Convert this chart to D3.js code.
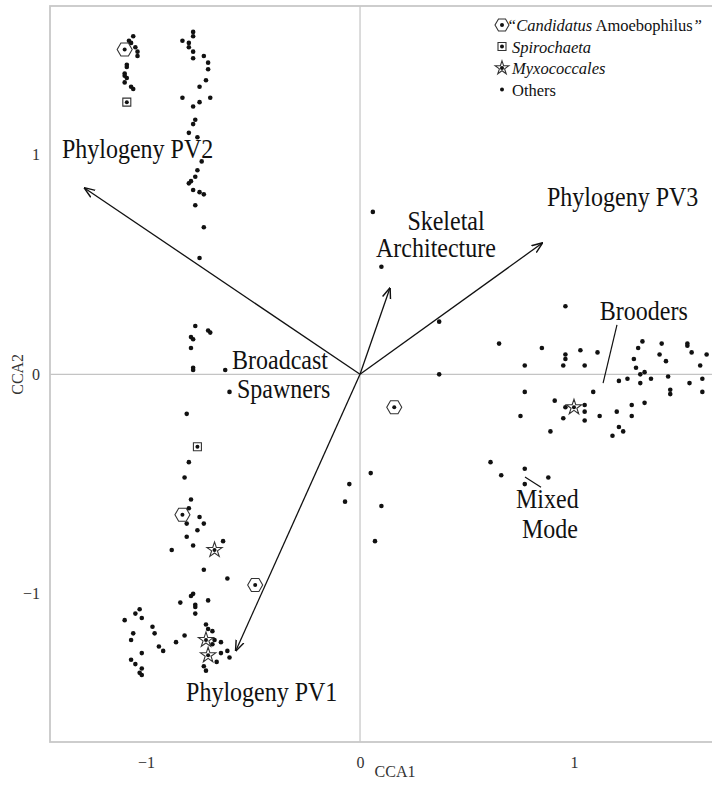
<!DOCTYPE html>
<html>
<head>
    <meta charset="utf-8">
    <title>CCA biplot</title>
    <script src="https://cdn.jsdelivr.net/npm/d3@7/dist/d3.min.js"></script>
    <style>
        body { margin: 0; background: #fff; }
        svg { font-family: 'Liberation Serif', 'Times New Roman', serif; display: block; }
        .tick text { font-size: 16px; fill: #333; }
        .label { font-size: 24px; fill: #111; }
        .legend text { font-size: 16.5px; fill: #111; font-family: 'Liberation Serif', 'Times New Roman', serif; }
    </style>
</head>
<body>
<svg id="chart" width="712" height="788"></svg>
<script>
    // sample scores (CCA1, CCA2)
    var others = [
        [-1.06, 1.54], [-1.08, 1.52], [-1.07, 1.51], [-1.05, 1.49], [-1.04, 1.47], [-1.04, 1.45],
        [-1.09, 1.41], [-1.09, 1.40], [-1.10, 1.37], [-1.10, 1.36], [-1.09, 1.35], [-1.10, 1.33],
        [-1.07, 1.31], [-1.06, 1.30],
        [-0.78, 1.56], [-0.78, 1.54], [-0.83, 1.52], [-0.80, 1.51], [-0.80, 1.49], [-0.78, 1.47],
        [-0.73, 1.45], [-0.78, 1.44], [-0.71, 1.42], [-0.71, 1.39], [-0.72, 1.34], [-0.75, 1.31],
        [-0.83, 1.26], [-0.70, 1.26], [-0.75, 1.24], [-0.78, 1.22], [-0.77, 1.16], [-0.78, 1.14],
        [-0.80, 1.10], [-0.76, 1.08], [-0.74, 0.97], [-0.76, 0.93], [-0.77, 0.90], [-0.79, 0.88],
        [-0.80, 0.87], [-0.78, 0.84], [-0.75, 0.83], [-0.73, 0.82], [-0.77, 0.77], [-0.73, 0.67],
        [-0.75, 0.53],
        [-0.77, 0.22], [-0.71, 0.20], [-0.70, 0.19], [-0.79, 0.17], [-0.78, 0.16], [-0.79, 0.12],
        [-0.78, 0.03], [-0.78, 0.02], [-0.63, 0.02], [-0.61, -0.08], [-0.81, -0.18], [-0.80, -0.40],
        [-0.82, -0.47], [-0.79, -0.57], [-0.80, -0.61], [-0.75, -0.65],
        [-0.81, -0.68], [-0.73, -0.68], [-0.76, -0.71], [-0.81, -0.74], [-0.64, -0.76], [-0.78, -0.78],
        [-0.88, -0.80], [-0.73, -0.89], [-0.62, -0.93], [-0.78, -1.00], [-0.79, -1.01], [-0.84, -1.04],
        [-0.71, -1.03], [-0.77, -1.05], [-0.77, -1.06], [-0.77, -1.09], [-1.03, -1.07], [-1.05, -1.09],
        [-1.02, -1.11], [-1.10, -1.12], [-0.97, -1.15], [-0.96, -1.18], [-1.06, -1.18], [-1.07, -1.21],
        [-0.82, -1.19], [-0.86, -1.22], [-0.72, -1.14], [-0.71, -1.16], [-0.69, -1.17], [-0.68, -1.21],
        [-0.65, -1.22], [-0.69, -1.23], [-0.94, -1.24], [-0.92, -1.26], [-1.02, -1.27], [-0.62, -1.26],
        [-0.65, -1.27], [-0.61, -1.29], [-0.67, -1.31], [-1.07, -1.30], [-1.05, -1.32], [-1.02, -1.34],
        [-1.03, -1.36], [-1.02, -1.37], [-0.73, -1.33], [-0.72, -1.35],
        [-0.05, -0.50], [-0.07, -0.58], [0.05, -0.45], [0.10, -0.60], [0.07, -0.76], [0.06, 0.74],
        [0.10, 0.49], [0.37, 0.24], [0.37, 0.00],
        [0.65, 0.14], [0.85, 0.12], [0.96, 0.31], [0.96, 0.09], [0.96, 0.07], [0.95, 0.04],
        [0.77, 0.04], [1.03, 0.11], [1.05, 0.04], [1.11, 0.10], [0.77, -0.08], [0.91, -0.12],
        [0.96, -0.15], [1.05, -0.14], [1.05, -0.17], [0.95, -0.20], [1.05, -0.21], [0.75, -0.19],
        [1.12, -0.19], [0.89, -0.26], [1.09, -0.08], [1.21, -0.03], [1.25, -0.02], [1.18, -0.28],
        [1.21, -0.24], [1.23, -0.26], [1.20, -0.17], [1.27, -0.19], [1.27, -0.14], [1.33, -0.13],
        [1.31, -0.04], [1.31, 0.00], [1.33, 0.01], [1.29, 0.03], [1.28, 0.07], [1.30, 0.12],
        [1.32, 0.15], [1.36, -0.02], [1.40, 0.09], [1.41, 0.14], [1.43, 0.06], [1.44, -0.01],
        [1.45, -0.07], [1.45, -0.09], [1.53, 0.14], [1.53, 0.13], [1.55, 0.10], [1.62, 0.09],
        [1.59, 0.04], [1.60, -0.02], [1.54, -0.04], [1.60, -0.08],
        [0.61, -0.40], [0.66, -0.46], [0.77, -0.43], [0.77, -0.50], [0.88, -0.47]
    ];
    var candidatus = [[-1.10, 1.48], [-0.83, -0.64], [-0.49, -0.96], [0.16, -0.15]];
    var spirochaeta = [[-1.09, 1.24], [-0.76, -0.33]];
    var myxococcales = [[-0.68, -0.80], [-0.72, -1.21], [-0.71, -1.28], [1.00, -0.15]];

    // biplot vectors
    var vectorNames = ["Phylogeny PV1", "Phylogeny PV2", "Phylogeny PV3", "Skeletal Architecture"];
    var vectorX = [-0.581, -1.288, 0.852, 0.14];
    var vectorY = [-1.26, 0.849, 0.598, 0.393];

    var xTicks = [-1, 0, 1];
    var yTicks = [-1, 0, 1];

    var svg = d3.select("#chart");

    var x = d3.scaleLinear().domain([-1.449, 1.776]).range([50, 740]);
    var y = d3.scaleLinear().domain([-1.675, 1.678]).range([742, 6]);

    // zero lines
    svg.append("line")
        .attr("x1", x(0)).attr("x2", x(0))
        .attr("y1", y.range()[0]).attr("y2", y.range()[1])
        .attr("stroke", "#c4c4c4").attr("stroke-width", 1.2);
    svg.append("line")
        .attr("x1", x.range()[0]).attr("x2", x.range()[1])
        .attr("y1", y(0)).attr("y2", y(0))
        .attr("stroke", "#c4c4c4").attr("stroke-width", 1.2);

    // frame
    svg.append("rect")
        .attr("x", x.range()[0]).attr("y", y.range()[1])
        .attr("width", x.range()[1] - x.range()[0])
        .attr("height", y.range()[0] - y.range()[1])
        .attr("fill", "none").attr("stroke", "#c8c8c8").attr("stroke-width", 1.8);

    // axes (labels only)
    var gx = svg.append("g")
        .attr("transform", "translate(0," + y.range()[0] + ")")
        .call(d3.axisBottom(x).tickValues(xTicks).tickSize(0).tickPadding(15).tickFormat(d3.format("d")))
        .attr("font-family", null).attr("font-size", null);
    gx.select(".domain").remove();

    var gy = svg.append("g")
        .attr("transform", "translate(" + x.range()[0] + ",0)")
        .call(d3.axisLeft(y).tickValues(yTicks).tickSize(0).tickPadding(10).tickFormat(d3.format("d")))
        .attr("font-family", null).attr("font-size", null);
    gy.select(".domain").remove();

    svg.append("text")
        .attr("x", 395).attr("y", 777)
        .attr("text-anchor", "middle")
        .style("font-size", "16px").style("fill", "#333")
        .text("CCA1");
    svg.append("text")
        .attr("transform", "translate(23," + y(0) + ") rotate(-90)")
        .attr("text-anchor", "middle")
        .style("font-size", "16px").style("fill", "#333")
        .text("CCA2");

    // symbol helpers
    function hexPath(r) {
        var pts = d3.range(6).map(function (i) {
            var a = i * Math.PI / 3;
            return [r * Math.cos(a), r * Math.sin(a)];
        });
        return "M" + pts.join("L") + "Z";
    }
    var starPath = d3.symbol(d3.symbolStar, 72)();
    var legendStar = d3.symbol(d3.symbolStar, 58)();
    var squarePath = "M-4,-4H4V4H-4Z";

    function drawSpecial(data, shape) {
        var g = svg.append("g");
        g.selectAll("path")
            .data(data)
            .join("path")
            .attr("transform", d => "translate(" + x(d[0]) + "," + y(d[1]) + ")")
            .attr("d", shape)
            .attr("fill", "#fff")
            .attr("stroke", "#333")
            .attr("stroke-width", 1.1);
        g.selectAll("circle")
            .data(data)
            .join("circle")
            .attr("cx", d => x(d[0]))
            .attr("cy", d => y(d[1]))
            .attr("r", 2)
            .attr("fill", "#111");
    }

    // points
    svg.append("g").selectAll("circle")
        .data(others)
        .join("circle")
        .attr("cx", d => x(d[0]))
        .attr("cy", d => y(d[1]))
        .attr("r", 2.3)
        .attr("fill", "#111");

    drawSpecial(candidatus, hexPath(7.5));
    drawSpecial(spirochaeta, squarePath);
    drawSpecial(myxococcales, starPath);

    // arrows
    svg.append("defs").append("marker")
        .attr("id", "head")
        .attr("viewBox", "0 0 10 10")
        .attr("refX", 9.5).attr("refY", 5)
        .attr("markerWidth", 11).attr("markerHeight", 11)
        .attr("markerUnits", "userSpaceOnUse")
        .attr("orient", "auto")
        .append("path")
        .attr("d", "M0,1.2L10,5L0,8.8")
        .attr("fill", "none")
        .attr("stroke", "#111")
        .attr("stroke-width", 1.3);

    vectorNames.forEach(function (name, i) {
        svg.append("line")
            .attr("x1", x(0)).attr("y1", y(0))
            .attr("x2", x(vectorX[i])).attr("y2", y(vectorY[i]))
            .attr("stroke", "#111")
            .attr("stroke-width", 1.3)
            .attr("marker-end", "url(#head)");
    });

    // annotation labels (anchor in data units); the source type is a bit taller than wide
    var labels = [
        { text: "Phylogeny PV2", x: -1.393, y: 0.985, anchor: "start" },
        { text: "Phylogeny PV3", x: 0.874, y: 0.767, anchor: "start" },
        { text: "Skeletal", x: 0.402, y: 0.658, anchor: "middle" },
        { text: "Architecture", x: 0.355, y: 0.535, anchor: "middle" },
        { text: "Brooders", x: 1.121, y: 0.247, anchor: "start" },
        { text: "Broadcast", x: -0.598, y: 0.024, anchor: "start" },
        { text: "Spawners", x: -0.575, y: -0.108, anchor: "start" },
        { text: "Mixed", x: 0.729, y: -0.609, anchor: "start" },
        { text: "Mode", x: 0.757, y: -0.746, anchor: "start" },
        { text: "Phylogeny PV1", x: -0.813, y: -1.488, anchor: "start" }
    ];
    svg.append("g").selectAll("text")
        .data(labels)
        .join("text")
        .attr("class", "label")
        .attr("transform", d => "translate(" + x(d.x) + "," + y(d.y) + ") scale(1,1.1)")
        .attr("text-anchor", d => d.anchor)
        .text(d => d.text);

    // leader lines
    var leaders = [[1.201, 0.225, 1.136, -0.040], [0.771, -0.468, 0.846, -0.514]];
    leaders.forEach(function (l) {
        svg.append("line")
            .attr("x1", x(l[0])).attr("y1", y(l[1]))
            .attr("x2", x(l[2])).attr("y2", y(l[3]))
            .attr("stroke", "#111").attr("stroke-width", 1.2);
    });

    // legend
    var legend = svg.append("g").attr("class", "legend");
    var lx = 502;
    var rows = [25, 46.5, 68, 89.5];

    legend.append("path").attr("transform", "translate(" + lx + "," + rows[0] + ")")
        .attr("d", hexPath(7)).attr("fill", "#fff").attr("stroke", "#333").attr("stroke-width", 1.1);
    legend.append("path").attr("transform", "translate(" + lx + "," + rows[1] + ")")
        .attr("d", squarePath).attr("fill", "#fff").attr("stroke", "#333").attr("stroke-width", 1.1);
    legend.append("path").attr("transform", "translate(" + lx + "," + rows[2] + ")")
        .attr("d", legendStar).attr("fill", "#fff").attr("stroke", "#333").attr("stroke-width", 1.1);
    rows.forEach(function (ry) {
        legend.append("circle").attr("cx", lx).attr("cy", ry).attr("r", 2).attr("fill", "#111");
    });

    var t1 = legend.append("text").attr("x", 507).attr("y", rows[0] + 6);
    t1.append("tspan").style("font-style", "italic").text("\u201cCandidatus");
    t1.append("tspan").text(" Amoebophilus");
    t1.append("tspan").style("font-style", "italic").text("\u201d");
    legend.append("text").attr("x", 512).attr("y", rows[1] + 6).style("font-style", "italic").text("Spirochaeta");
    legend.append("text").attr("x", 512).attr("y", rows[2] + 6).style("font-style", "italic").text("Myxococcales");
    legend.append("text").attr("x", 512).attr("y", rows[3] + 6).text("Others");
</script>
</body>
</html>
